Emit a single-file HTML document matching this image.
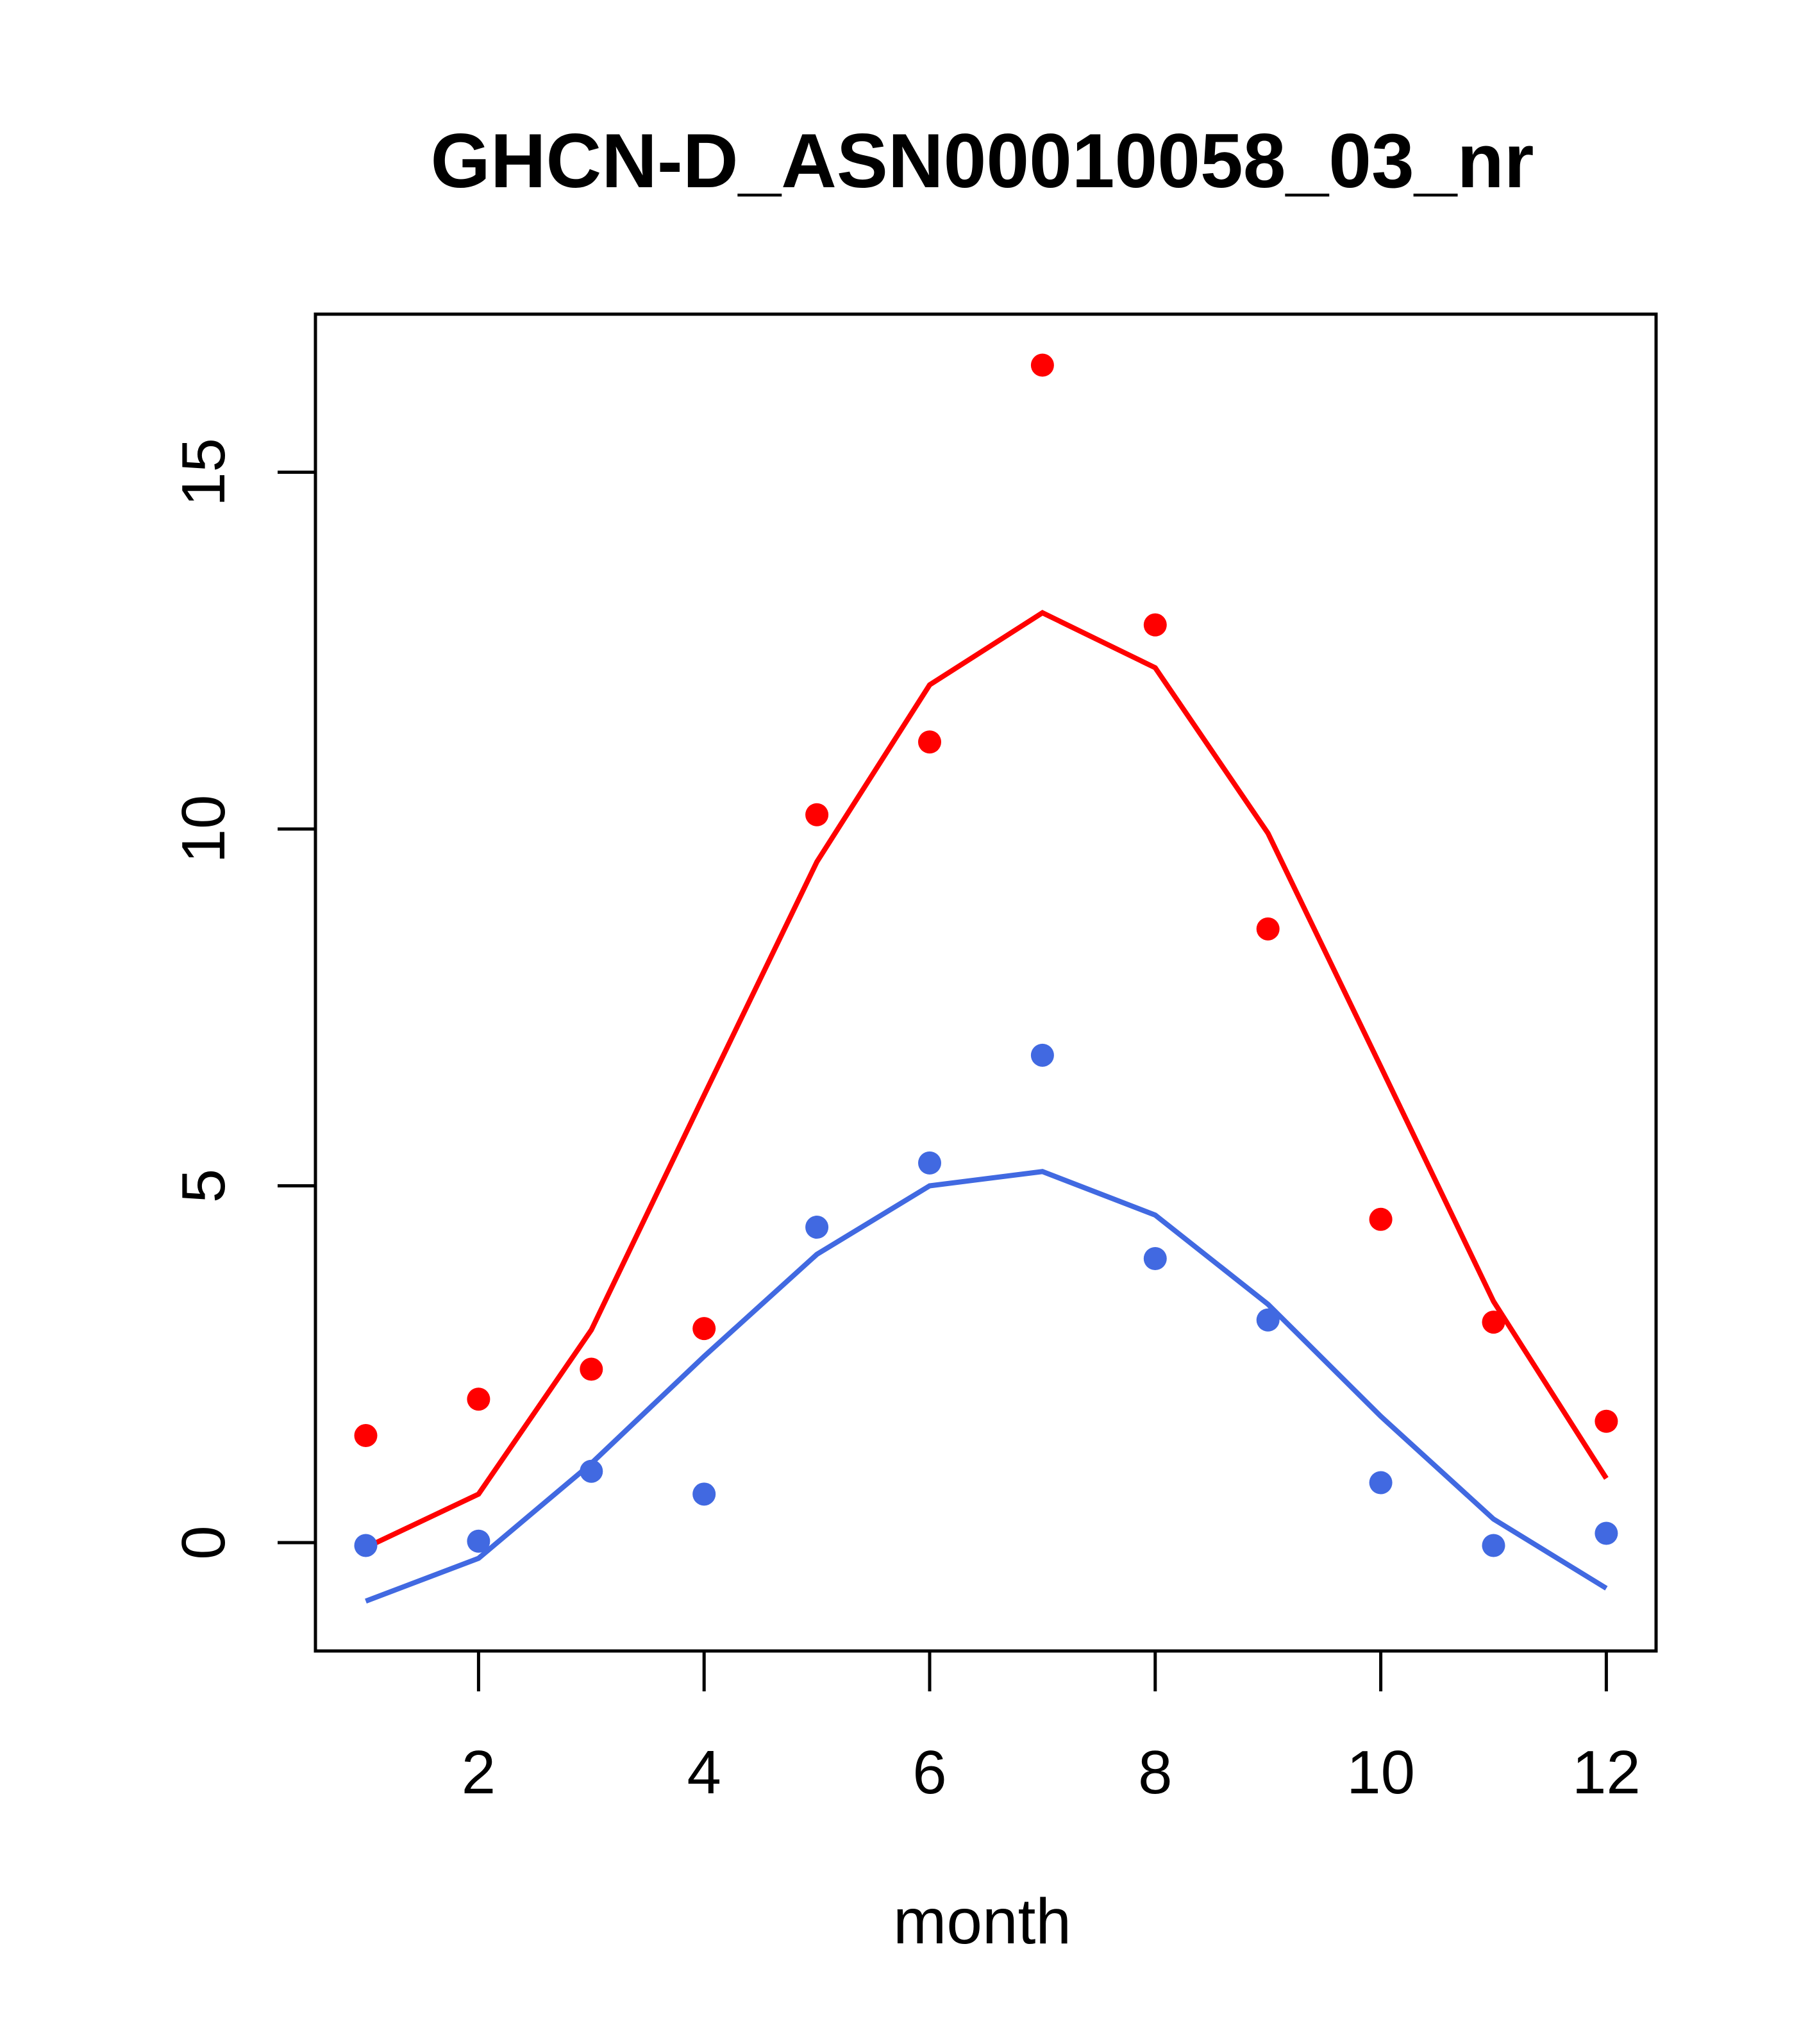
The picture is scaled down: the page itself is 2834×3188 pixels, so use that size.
<!DOCTYPE html>
<html><head><meta charset="utf-8"><style>
html,body{margin:0;padding:0;background:#fff}
svg{display:block}
text{font-family:"Liberation Sans",Arial,sans-serif}
</style></head><body>
<svg id="chart" width="2834" height="3188" viewBox="0 0 2834 3188" xmlns="http://www.w3.org/2000/svg">
<rect width="2834" height="3188" fill="#fff"/>
<text x="1532" y="292" font-size="120" font-weight="bold" text-anchor="middle">GHCN-D_ASN00010058_03_nr</text>
<rect x="492" y="490" width="2091" height="2085" fill="none" stroke="#000" stroke-width="5"/>
<text x="1532" y="3031" font-size="100" text-anchor="middle">month</text>
<g id="axes"></g>
<g id="marks"></g>
</svg>
<script>
const months=[1,2,3,4,5,6,7,8,9,10,11,12];
const redPoints=[1.5,2.01,2.43,3.0,10.2,11.22,16.5,12.86,8.6,4.53,3.09,1.7];
const redLine=[-0.07,0.68,2.98,6.27,9.54,12.02,13.03,12.26,9.94,6.67,3.38,0.9];
const bluePoints=[-0.04,0.02,1.0,0.68,4.42,5.32,6.83,3.98,3.12,0.84,-0.04,0.13];
const blueLine=[-0.82,-0.22,1.11,2.61,4.04,5.0,5.2,4.59,3.34,1.77,0.33,-0.64];
const xTicks=[2,4,6,8,10,12];
const yTicks=[0,5,10,15];

const NS="http://www.w3.org/2000/svg";
function xs(m){return 570.5+(m-1)*175.9;}
function ys(v){return 2406-v*111.3;}
function mk(tag,attrs,parent){const e=document.createElementNS(NS,tag);for(const k in attrs)e.setAttribute(k,attrs[k]);parent.appendChild(e);return e;}
const axes=document.getElementById('axes'),marks=document.getElementById('marks');

xTicks.forEach(t=>{
  const l=mk('line',{x1:xs(t),x2:xs(t),y1:2575,y2:2638,stroke:'#000','stroke-width':5},axes);
  
  
  const tx=mk('text',{x:xs(t),y:2797,'font-size':96,'text-anchor':'middle'},axes);
  tx.textContent=t;
  
  
});
yTicks.forEach(t=>{
  const l=mk('line',{x1:433,x2:492,y1:ys(t),y2:ys(t),stroke:'#000','stroke-width':5},axes);
  
  
  const tx=mk('text',{x:0,y:0,'font-size':96,'text-anchor':'middle',transform:'translate(350,'+ys(t)+') rotate(-90)'},axes);
  tx.textContent=t;
  
  
});

function line(vals,color,name){
  const p=mk('polyline',{points:months.map((m,i)=>xs(m)+','+ys(vals[i])).join(' '),fill:'none',stroke:color,'stroke-width':8},marks);
  
  
}
function pts(vals,color,name){
  months.forEach((m,i)=>{
    const c=mk('circle',{cx:xs(m),cy:ys(vals[i]),r:18,fill:color},marks);
    
    
  });
}
line(redLine,'#FF0000','red-fit-line');
line(blueLine,'#4169E1','blue-fit-line');
pts(redPoints,'#FF0000','red-point');
pts(bluePoints,'#4169E1','blue-point');
</script>
</body></html>
